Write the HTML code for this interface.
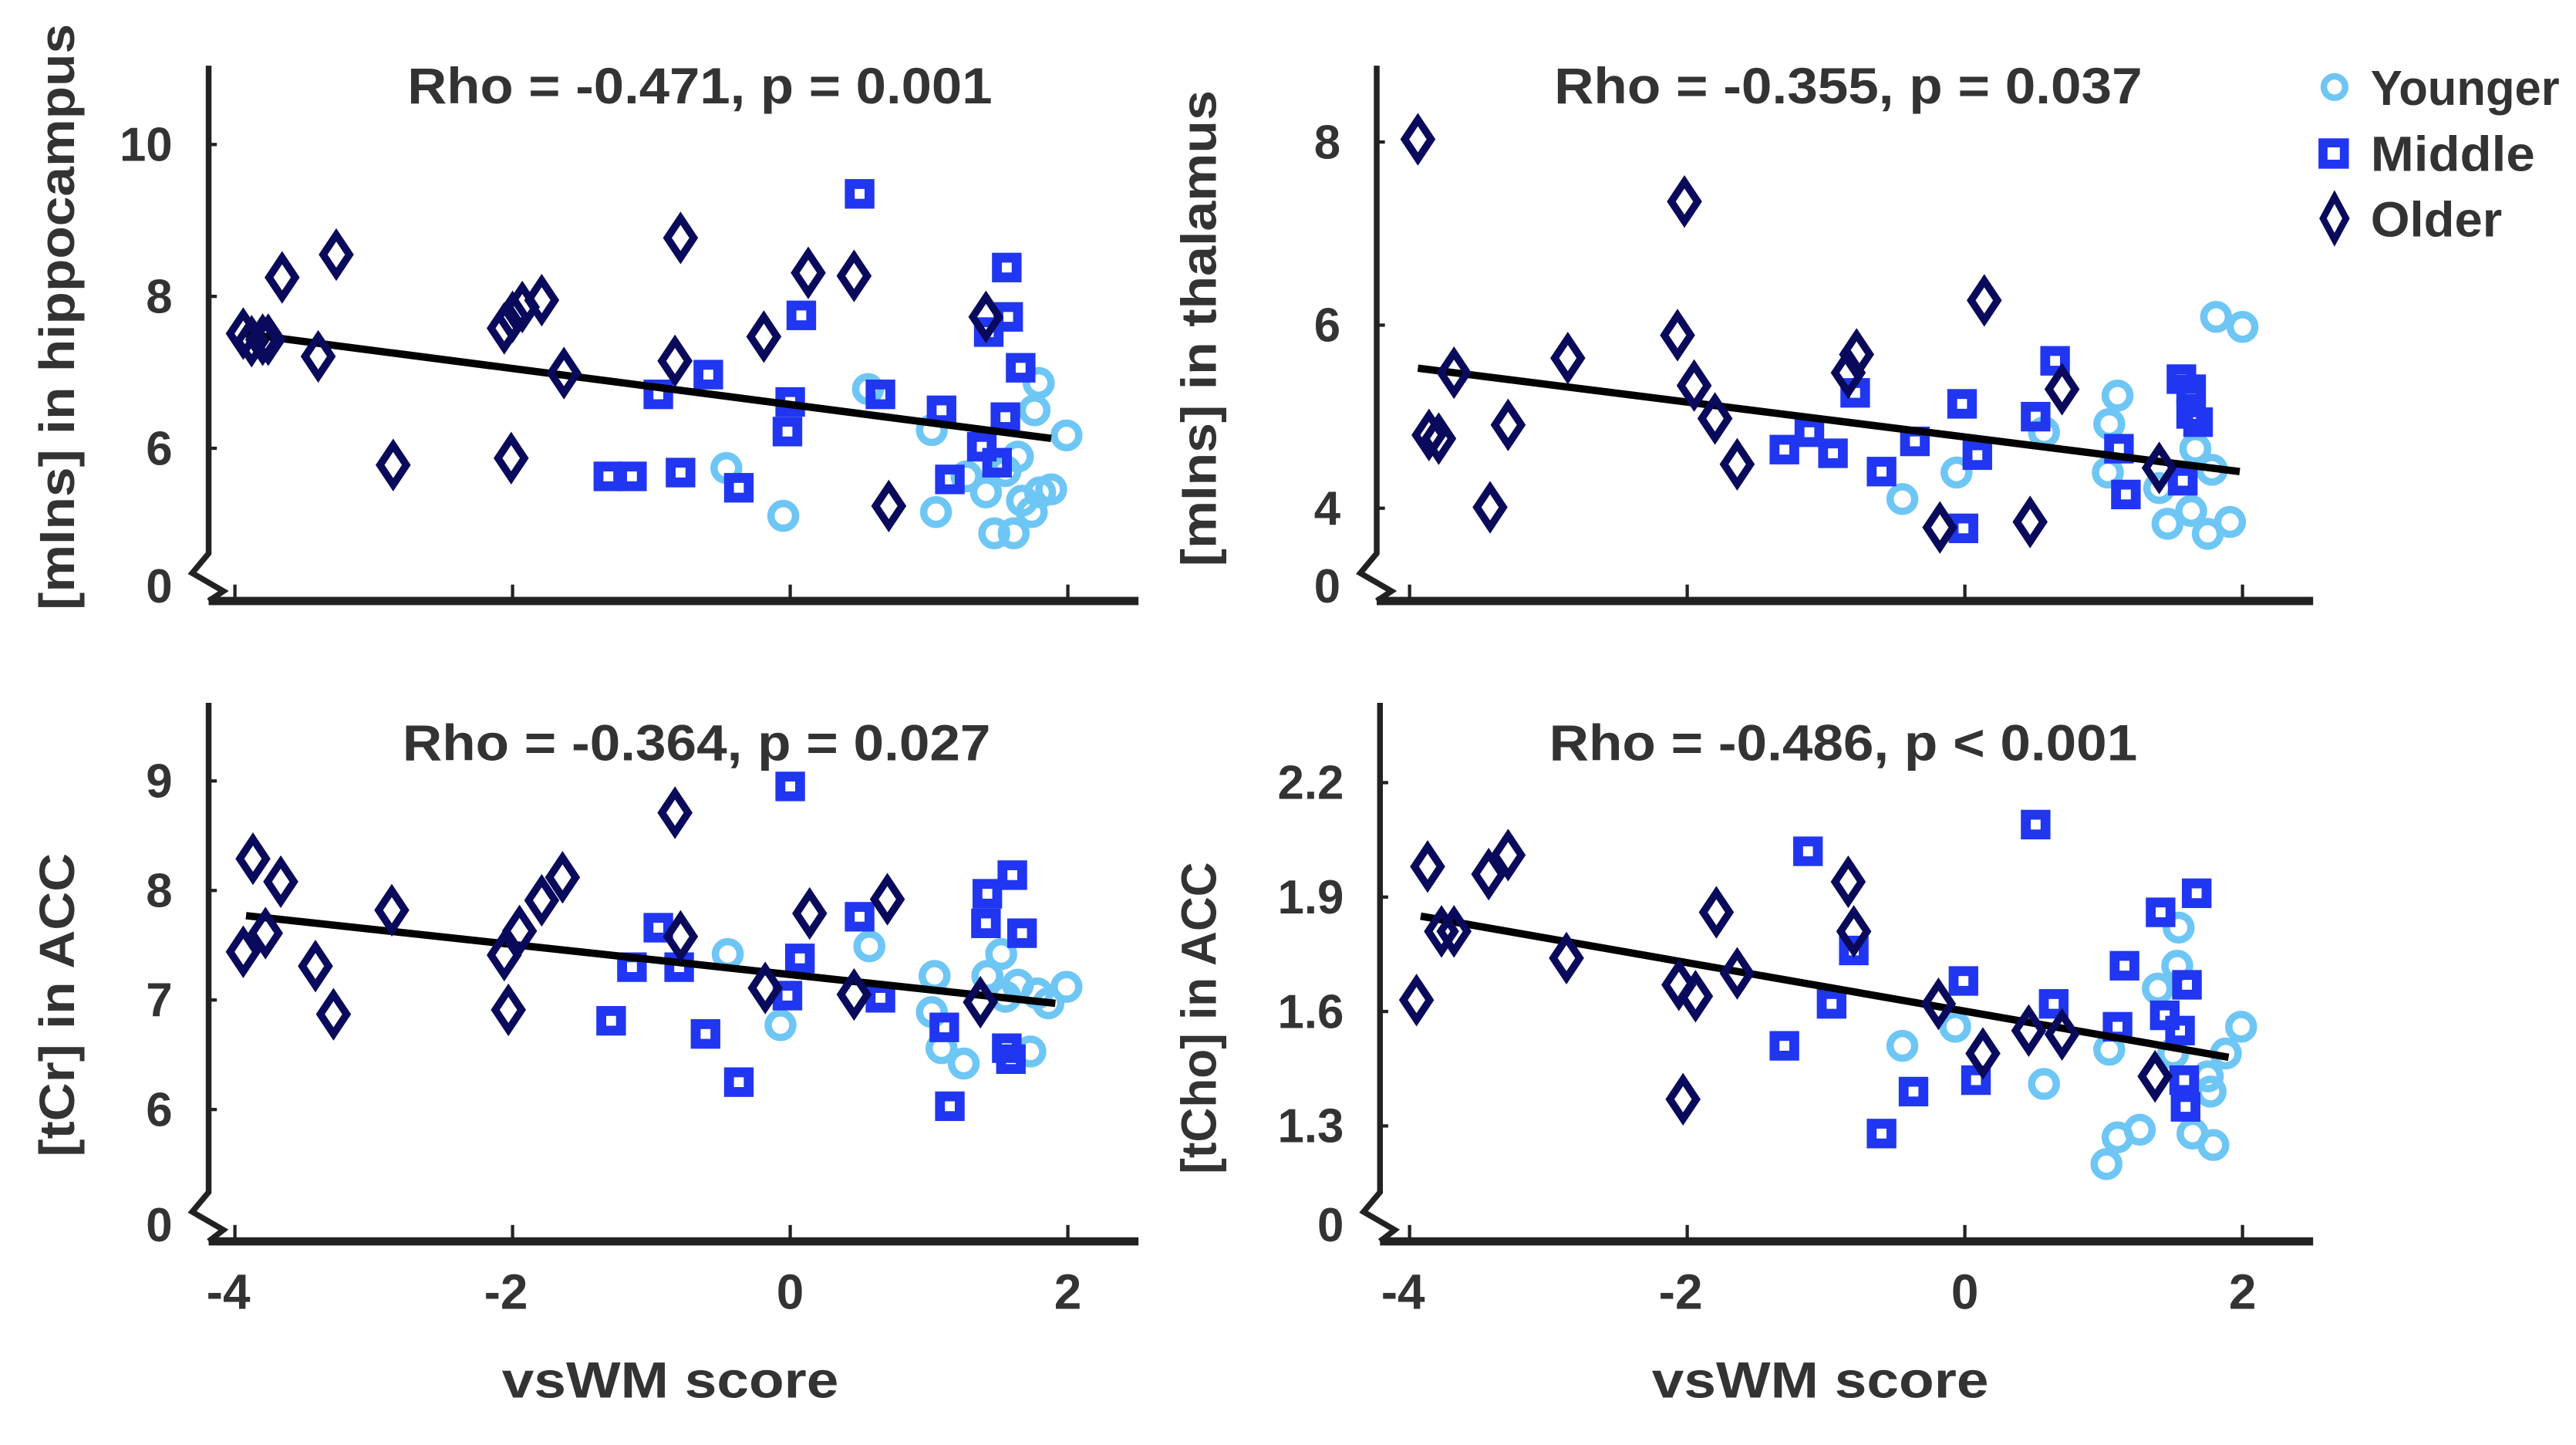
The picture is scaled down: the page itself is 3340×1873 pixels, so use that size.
<!DOCTYPE html>
<html><head><meta charset="utf-8"><style>
html,body{margin:0;padding:0;background:#fff;}
svg{display:block;}
text{font-family:"Liberation Sans",sans-serif;font-weight:bold;fill:#333;}
</style></head><body>
<svg id="fig" width="3340" height="1873" viewBox="0 0 1568 880" preserveAspectRatio="none" xmlns="http://www.w3.org/2000/svg">
<g id="legend">
 <g><circle cx="1421" cy="53" r="6.5" fill="none" stroke="#6ec6f5" stroke-width="4"/><text x="1443" y="64" font-size="30" textLength="115" lengthAdjust="spacingAndGlyphs">Younger</text></g>
 <g><rect x="1414" y="87" width="13" height="13" fill="none" stroke="#2036f0" stroke-width="5.5"/><text x="1443" y="104" font-size="30" textLength="100" lengthAdjust="spacingAndGlyphs">Middle</text></g>
 <g><path d="M1421,120 L1428,133 L1421,146 L1414,133 Z" fill="none" stroke="#0a0a5c" stroke-width="4"/><text x="1443" y="144" font-size="30" textLength="80" lengthAdjust="spacingAndGlyphs">Older</text></g>
</g>
</svg>
<script>
// ---- data (x = vsWM score, y = metabolite) ----
const p1YoungX=[-0.46,-0.05,0.56,1.05,1.02,1.27,1.41,1.47,1.61,1.67,1.74,1.80,1.88,1.79,1.76,1.99,1.55,1.64];
const p1YoungY=[5.74,5.11,6.78,5.16,6.24,5.63,5.42,4.88,4.88,5.31,5.16,5.42,5.46,6.86,6.50,6.17,5.70,5.89];
const p1MidX=[0.50,0.08,-0.59,-0.95,0.0,-0.02,0.65,1.09,1.56,1.57,1.66,1.55,1.38,1.49,1.15,-1.31,-1.14,-0.79,-0.37,1.43];
const p1MidY=[9.35,7.75,6.97,6.71,6.61,6.22,6.71,6.50,8.38,7.73,7.06,6.41,6.02,5.81,5.59,5.63,5.63,5.68,5.48,7.53];
const p1OldX=[-3.94,-3.88,-3.80,-3.76,-3.66,-3.40,-3.27,-2.86,-2.06,-2.0,-1.93,-1.79,-1.63,-2.01,-0.79,-0.83,-0.19,0.13,0.46,0.71,1.41];
const p1OldY=[7.51,7.41,7.43,7.43,8.25,7.21,8.55,5.78,7.58,7.73,7.86,7.95,6.99,5.87,8.77,7.15,7.47,8.31,8.27,5.24,7.73];
const p1Fit=[-3.94,7.51,1.88,6.13];

const p2YoungX=[-0.45,-0.06,0.57,1.04,1.10,1.03,1.46,1.63,1.75,1.91,1.66,1.78,1.81,2.00,1.40];
const p2YoungY=[4.10,4.39,4.83,4.92,5.23,4.39,3.83,3.97,3.72,3.85,4.65,4.42,6.09,5.98,4.22];
const p2MidX=[-1.30,-1.12,-0.95,-0.79,-0.60,-0.36,-0.02,-0.01,0.09,0.51,0.65,1.11,1.16,1.57,1.56,1.63,1.63,1.68];
const p2MidY=[4.64,4.83,4.60,5.26,4.40,4.73,5.14,3.78,4.58,5.00,5.61,4.65,4.15,4.30,5.41,5.30,5.03,4.94];
const p2OldX=[-3.94,-3.86,-3.79,-3.68,-3.29,-3.42,-2.86,-2.02,-2.07,-1.95,-1.80,-1.64,-0.84,-0.78,-0.18,0.14,0.47,0.70,1.40];
const p2OldY=[8.03,4.80,4.76,5.48,4.91,4.01,5.64,7.35,5.89,5.34,4.98,4.48,5.48,5.68,3.79,6.27,3.85,5.30,4.44];
const p2Fit=[-3.94,5.53,1.98,4.40];

const p3YoungX=[-0.45,0.57,-0.07,1.04,1.02,1.09,1.25,1.52,1.42,1.64,1.99,1.86,1.73,1.78,1.55];
const p3YoungY=[7.42,7.49,6.77,7.22,6.89,6.56,6.42,7.42,7.22,7.14,7.12,6.97,6.53,7.06,7.03];
const p3MidX=[0.0,1.60,1.42,1.41,1.67,0.50,-0.95,-1.14,-0.80,0.07,-0.02,0.65,-1.29,-0.61,-0.37,1.11,1.15,1.56,1.59];
const p3MidY=[8.95,8.14,7.97,7.70,7.61,7.76,7.66,7.30,7.30,7.38,7.04,7.02,6.81,6.69,6.25,6.75,6.03,6.56,6.46];
const p3OldX=[-3.87,-3.67,-3.94,-3.78,-3.42,-3.29,-2.87,-2.06,-1.95,-1.79,-1.64,-2.03,-0.83,-0.79,-0.18,0.14,0.46,0.70,1.37];
const p3OldY=[8.29,8.08,7.44,7.61,7.31,6.87,7.82,7.41,7.63,7.91,8.12,6.91,8.71,7.58,7.11,7.79,7.05,7.92,6.98];
const p3Fit=[-3.92,7.77,1.91,6.97];

const p4YoungX=[-0.45,-0.07,0.57,1.04,1.02,1.10,1.26,1.54,1.53,1.39,1.99,1.88,1.75,1.77,1.64,1.79,1.50];
const p4YoungY=[1.51,1.56,1.41,1.50,1.20,1.27,1.29,1.82,1.72,1.66,1.56,1.49,1.43,1.39,1.28,1.25,1.49];
const p4MidX=[-1.13,0.51,-0.80,-0.01,-0.96,-1.30,-0.37,-0.60,0.08,0.64,1.10,1.15,1.41,1.67,1.60,1.44,1.55,1.58,1.59];
const p4MidY=[2.02,2.09,1.76,1.68,1.62,1.51,1.39,1.28,1.42,1.62,1.56,1.72,1.86,1.91,1.67,1.59,1.55,1.42,1.35];
const p4OldX=[-3.87,-3.95,-3.77,-3.68,-3.43,-3.29,-2.87,-2.06,-1.94,-1.79,-1.64,-2.03,-0.84,-0.80,-0.19,0.13,0.46,0.70,1.37];
const p4OldY=[1.98,1.63,1.81,1.81,1.96,2.01,1.74,1.67,1.64,1.86,1.70,1.37,1.94,1.81,1.62,1.49,1.55,1.54,1.43];
const p4Fit=[-3.92,1.85,1.90,1.48];

const xTickVals=[-4,-2,0,2];
const p1YTicks=[6,8,10];
const p2YTicks=[4,6,8];
const p3YTicks=[6,7,8,9];
const p4YTicks=[1.3,1.6,1.9,2.2];
const p4YTickLabels=["1.3","1.6","1.9","2.2"];
const titles=["Rho = -0.471, p = 0.001","Rho = -0.355, p = 0.037","Rho = -0.364, p = 0.027","Rho = -0.486, p < 0.001"];
const yTitles=["[mIns] in hippocampus","[mIns] in thalamus","[tCr] in ACC","[tCho] in ACC"];

const NS="http://www.w3.org/2000/svg";
const svg=document.getElementById('fig');
function mk(tag,attrs,parent){const e=document.createElementNS(NS,tag);for(const k in attrs)e.setAttribute(k,attrs[k]);(parent||svg).appendChild(e);return e;}

const panels=[
 {name:'hippocampus',ax:127,ay:366,top:40,right:693,x0:481,y0:273,yv0:6,ys:46.25,zero:357,yt:p1YTicks,ytl:p1YTicks.map(String),
  yx:p1YoungX,yy:p1YoungY,mx:p1MidX,my:p1MidY,ox:p1OldX,oy:p1OldY,fit:p1Fit,tx:426,ty:63,tw:356,lx:35,lcy:193,lw:357,showX:false},
 {name:'thalamus',ax:838,ay:366,top:40,right:1408,x0:1196,y0:198,yv0:6,ys:55.75,zero:357,yt:p2YTicks,ytl:p2YTicks.map(String),
  yx:p2YoungX,yy:p2YoungY,mx:p2MidX,my:p2MidY,ox:p2OldX,oy:p2OldY,fit:p2Fit,tx:1125,ty:63,tw:358,lx:730,lcy:200,lw:290,showX:false},
 {name:'acc-tcr',ax:127,ay:756,top:428,right:693,x0:481,y0:609,yv0:7,ys:66.7,zero:746,yt:p3YTicks,ytl:p3YTicks.map(String),
  yx:p3YoungX,yy:p3YoungY,mx:p3MidX,my:p3MidY,ox:p3OldX,oy:p3OldY,fit:p3Fit,tx:424,ty:463,tw:358,lx:35,lcy:612,lw:185,showX:true},
 {name:'acc-tcho',ax:840,ay:756,top:428,right:1408,x0:1196,y0:616,yv0:1.6,ys:232.3,zero:746,yt:p4YTicks,ytl:p4YTickLabels,
  yx:p4YoungX,yy:p4YoungY,mx:p4MidX,my:p4MidY,ox:p4OldX,oy:p4OldY,fit:p4Fit,tx:1122,ty:463,tw:358,lx:730,lcy:620,lw:190,showX:true}
];

panels.forEach((p,i)=>{
 const g=mk('g',{});
 
 
 const X=v=>p.x0+84.5*v;
 const Y=v=>p.y0-(v-p.yv0)*p.ys;
 const ya=mk('path',{d:`M${p.ax},${p.top} L${p.ax},${p.zero-20} L${p.ax-10},${p.zero-8} L${p.ax+9},${p.zero+3} L${p.ax},${p.ay}`,fill:'none',stroke:'#222','stroke-width':3.5,'stroke-linejoin':'miter'},g);
 
 
 const xa=mk('line',{x1:p.ax,y1:p.ay,x2:p.right,y2:p.ay,stroke:'#222','stroke-width':5},g);
 
 
 xTickVals.forEach(v=>{
  const t=mk('line',{x1:X(v),y1:p.ay,x2:X(v),y2:p.ay-10,stroke:'#222','stroke-width':2},g);
  
  
  if(p.showX){
   const l=mk('text',{x:X(v)-(v<0?4:0),y:797,'font-size':30,'text-anchor':'middle'},g);
   l.textContent=String(v);
   
   
  }
 });
 p.yt.forEach((v,k)=>{
  const t=mk('line',{x1:p.ax,y1:Y(v),x2:p.ax+5,y2:Y(v),stroke:'#222','stroke-width':2},g);
  
  
  const l=mk('text',{x:p.ax-22,y:Y(v)+10,'font-size':29,'text-anchor':'end'},g);
  l.textContent=p.ytl[k];
  
  
 });
 const z=mk('text',{x:p.ax-22,y:p.zero+10,'font-size':29,'text-anchor':'end'},g);
 z.textContent='0';
 
 
 const tt=mk('text',{x:p.tx,y:p.ty,'font-size':31,'text-anchor':'middle',textLength:p.tw,lengthAdjust:'spacingAndGlyphs'},g);
 tt.textContent=titles[i];
 
 
 const yt=mk('text',{x:0,y:0,'font-size':30,'text-anchor':'middle',transform:`translate(${p.lx+10},${p.lcy}) rotate(-90)`,textLength:p.lw,lengthAdjust:'spacingAndGlyphs'},g);
 yt.textContent=yTitles[i];
 
 
 if(p.showX){
  const xt=mk('text',{x:p.ax<500?408:1108,y:851,'font-size':31,'text-anchor':'middle',textLength:205,lengthAdjust:'spacingAndGlyphs'},g);
  xt.textContent='vsWM score';
  
  
 }
 p.yx.forEach((v,k)=>{
  const c=mk('circle',{cx:X(v),cy:Y(p.yy[k]),r:7.5,fill:'none',stroke:'#6ec6f5','stroke-width':4.5},g);
  
  
 });
 p.mx.forEach((v,k)=>{
  const r=mk('rect',{x:X(v)-6,y:Y(p.my[k])-6,width:12,height:12,fill:'none',stroke:'#2036f0','stroke-width':6},g);
  
  
 });
 const fl=mk('line',{x1:X(p.fit[0]),y1:Y(p.fit[1]),x2:X(p.fit[2]),y2:Y(p.fit[3]),stroke:'#000','stroke-width':4.5},g);
 
 
 p.ox.forEach((v,k)=>{
  const cx=X(v),cy=Y(p.oy[k]);
  const d=mk('path',{d:`M${cx},${cy-12} L${cx+8},${cy} L${cx},${cy+12} L${cx-8},${cy} Z`,fill:'none',stroke:'#0a0a5c','stroke-width':4.5},g);
  
  
 });
});
</script>
</body></html>
